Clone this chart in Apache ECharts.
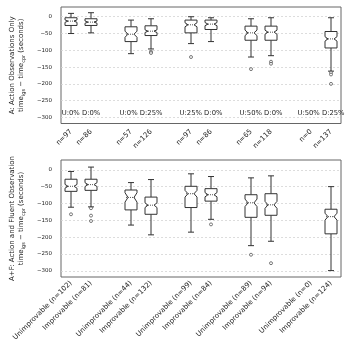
<!DOCTYPE html>
<html>
<head>
<meta charset="utf-8">
<script src="https://cdn.jsdelivr.net/npm/echarts@6/dist/echarts.min.js"></script>
<style>
html, body { margin: 0; padding: 0; background: #fff; }
#chart { width: 350px; height: 350px; }
</style>
</head>
<body>
<div id="chart"></div>
<script>
var groupLabels = ['U:0% D:0%', 'U:0% D:25%', 'U:25% D:0%', 'U:50% D:0%', 'U:50% D:25%'];
var conditionNames = ['Unimprovable', 'Improvable'];
var topCounts = [97, 86, 57, 126, 97, 86, 65, 118, 0, 137];
var bottomCounts = [102, 81, 44, 132, 99, 84, 89, 94, 0, 124];

// [min, q1, median, q3, max] per box, null when there is no data
var topStats = [
    [-50, -26, -13, -3, 10],
    [-48, -26, -16, -6, 12],
    [-110, -74, -52, -30, -10],
    [-96, -56, -43, -27, -6],
    [-80, -48, -24, -10, 0],
    [-74, -38, -22, -10, -3],
    [-120, -70, -48, -28, -6],
    [-116, -70, -46, -28, -3],
    null,
    [-162, -93, -66, -44, -3]
];
var bottomStats = [
    [-111, -64, -49, -28, -5],
    [-110, -61, -44, -28, 8],
    [-164, -119, -82, -60, -38],
    [-193, -132, -105, -81, -29],
    [-185, -112, -71, -49, -12],
    [-147, -93, -74, -56, -20],
    [-225, -141, -98, -74, -24],
    [-212, -135, -104, -71, -18],
    null,
    [-299, -190, -139, -117, -50]
];
// [box index, value]
var topOutliers = [[3, -104], [3, -108], [4, -120], [6, -156], [7, -134], [7, -140], [9, -166], [9, -172], [9, -200]];
var bottomOutliers = [[0, -132], [1, -114], [1, -136], [1, -152], [5, -162], [6, -252], [7, -277]];
var yTicks = [0, -50, -100, -150, -200, -250, -300];

var FONT = 'DejaVu Sans';
var INK = '#333';

function slotOf(k) {
    return Math.floor(k / 2) * 3 + k % 2;
}

function buildCategories(labelFn) {
    var cats = [];
    for (var s = 0; s < 14; s++) {
        cats.push(new Array(s + 1).join(' '));
    }
    for (var k = 0; k < 10; k++) {
        cats[slotOf(k)] = labelFn(k);
    }
    return cats;
}

function boxData(stats, counts) {
    var out = [];
    stats.forEach(function (st, k) {
        if (st) out.push([slotOf(k)].concat(st, [counts[k]]));
    });
    return out;
}

function outlierData(list) {
    return list.map(function (o) { return [slotOf(o[0]), o[1]]; });
}

function renderBox(params, api) {
    var x = api.value(0);
    var vLo = api.value(1), vQ1 = api.value(2), vMed = api.value(3), vQ3 = api.value(4), vHi = api.value(5);
    var n = api.value(6);
    var lo = api.coord([x, vLo]);
    var q1 = api.coord([x, vQ1])[1];
    var med = api.coord([x, vMed])[1];
    var q3 = api.coord([x, vQ3])[1];
    var hi = api.coord([x, vHi])[1];
    var cx = lo[0];
    var hw = api.size([1, 0])[0] * 0.3;
    var cw = hw * 0.5;
    // notch like matplotlib: median +- 1.57 * IQR / sqrt(n)
    var d = 1.57 * (vQ3 - vQ1) / Math.sqrt(n);
    var nLo = api.coord([x, vMed - d])[1];
    var nHi = api.coord([x, vMed + d])[1];
    var line = { stroke: INK, lineWidth: 1 };
    return {
        type: 'group',
        children: [
            { type: 'line', shape: { x1: cx, y1: q3, x2: cx, y2: hi }, style: line },
            { type: 'line', shape: { x1: cx, y1: q1, x2: cx, y2: lo[1] }, style: line },
            { type: 'line', shape: { x1: cx - cw, y1: hi, x2: cx + cw, y2: hi }, style: line },
            { type: 'line', shape: { x1: cx - cw, y1: lo[1], x2: cx + cw, y2: lo[1] }, style: line },
            {
                type: 'polygon',
                shape: {
                    points: [
                        [cx - hw, q1], [cx + hw, q1], [cx + hw, nLo], [cx + cw, med], [cx + hw, nHi],
                        [cx + hw, q3], [cx - hw, q3], [cx - hw, nHi], [cx - cw, med], [cx - hw, nLo]
                    ]
                },
                style: { fill: '#fff', stroke: INK, lineWidth: 1 }
            },
            {
                type: 'line',
                shape: { x1: cx - hw + 1, y1: med, x2: cx + hw - 1, y2: med },
                style: { stroke: '#555', lineWidth: 1, lineDash: [1, 1] }
            }
        ]
    };
}

function renderGroupLabel(params, api) {
    var s = api.value(0);
    var a = api.coord([s, -288]);
    var b = api.coord([s + 1, -288]);
    return {
        type: 'text',
        style: {
            text: groupLabels[api.value(1)],
            x: (a[0] + b[0]) / 2,
            y: a[1],
            align: 'center',
            verticalAlign: 'middle',
            fontSize: 6.8,
            fontFamily: FONT,
            fill: '#222'
        }
    };
}

function yAxisFor(gridIndex, title) {
    return {
        type: 'value',
        gridIndex: gridIndex,
        min: -318,
        max: 29,
        name: title + '\n{t|time}{s|igs}{t| \u2212 time}{s|cpr}{t| (seconds)}',
        nameLocation: 'middle',
        nameRotate: 90,
        nameGap: 30,
        nameTextStyle: {
            fontSize: 7,
            fontFamily: FONT,
            color: '#222',
            lineHeight: 9,
            rich: {
                t: { fontSize: 7, fontFamily: FONT, color: '#222' },
                s: { fontSize: 5, fontFamily: FONT, color: '#222', verticalAlign: 'bottom', padding: [3, 0, 0, 0] }
            }
        },
        axisLine: { show: false },
        axisTick: { show: false, customValues: yTicks },
        axisLabel: {
            customValues: yTicks,
            fontSize: 5.5,
            fontFamily: FONT,
            color: '#222',
            margin: 9,
            formatter: function (v) { return String(v).replace('-', '\u2212'); }
        },
        splitLine: { show: true, lineStyle: { color: '#d4d4d4', width: 0.8, type: [2, 2] } }
    };
}

function xAxisFor(gridIndex, cats, margin) {
    return {
        type: 'category',
        gridIndex: gridIndex,
        data: cats,
        boundaryGap: true,
        axisLine: { show: false },
        axisTick: { show: false },
        splitLine: { show: false },
        axisLabel: {
            interval: 0,
            rotate: 45,
            margin: margin,
            fontSize: 7,
            fontFamily: FONT,
            color: '#222'
        }
    };
}

var topCats = buildCategories(function (k) { return 'n=' + topCounts[k]; });
var bottomCats = buildCategories(function (k) {
    return conditionNames[k % 2] + ' (n=' + bottomCounts[k] + ')';
});
var groupData = groupLabels.map(function (g, i) { return [i * 3, i]; });

var chart = echarts.init(document.getElementById('chart'), null, { renderer: 'canvas' });
var option = {
    animation: false,
    backgroundColor: '#fff',
    grid: [
        { left: 59, right: 9, top: 7, height: 116.5, show: true, borderColor: '#666', borderWidth: 1, backgroundColor: 'transparent' },
        { left: 59, right: 9, top: 160, height: 117, show: true, borderColor: '#666', borderWidth: 1, backgroundColor: 'transparent' }
    ],
    xAxis: [
        xAxisFor(0, topCats, 7),
        xAxisFor(1, bottomCats, 5)
    ],
    yAxis: [
        yAxisFor(0, 'A: Action Observations Only'),
        yAxisFor(1, 'A+F: Action and Fluent Observation')
    ],
    series: [
        {
            type: 'custom', xAxisIndex: 0, yAxisIndex: 0,
            renderItem: renderBox, encode: { x: 0, y: [1, 2, 3, 4, 5] },
            data: boxData(topStats, topCounts)
        },
        {
            type: 'custom', xAxisIndex: 1, yAxisIndex: 1,
            renderItem: renderBox, encode: { x: 0, y: [1, 2, 3, 4, 5] },
            data: boxData(bottomStats, bottomCounts)
        },
        {
            type: 'scatter', xAxisIndex: 0, yAxisIndex: 0,
            symbol: 'circle', symbolSize: 3,
            itemStyle: { color: '#fff', borderColor: INK, borderWidth: 0.8 },
            data: outlierData(topOutliers)
        },
        {
            type: 'scatter', xAxisIndex: 1, yAxisIndex: 1,
            symbol: 'circle', symbolSize: 3,
            itemStyle: { color: '#fff', borderColor: INK, borderWidth: 0.8 },
            data: outlierData(bottomOutliers)
        },
        {
            type: 'custom', xAxisIndex: 0, yAxisIndex: 0,
            renderItem: renderGroupLabel, encode: { x: 0 },
            data: groupData
        }
    ]
};
chart.setOption(option);
</script>
</body>
</html>
